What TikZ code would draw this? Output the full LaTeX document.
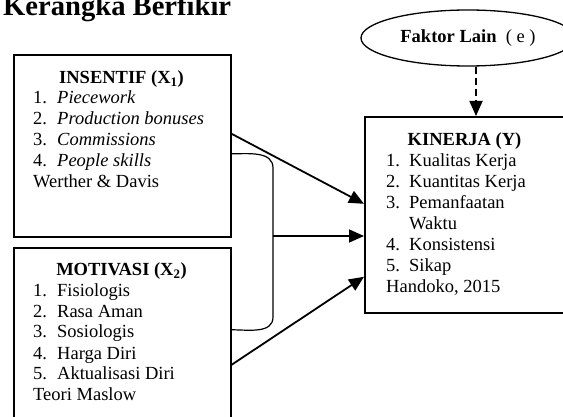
\documentclass[tikz,border=0pt]{standalone}
\usepackage{fontspec}
\setmainfont{Liberation Serif}
\usetikzlibrary{arrows.meta,shapes.geometric}
\tikzset{
  box/.style={draw, line width=1.6pt, inner sep=0pt, anchor=north west},
  arr/.style={line width=1.8pt, -{Triangle[length=15pt,width=13pt]}},
  txt/.style={inner sep=0pt, anchor=base west, font=\fontsize{18.5}{21}\selectfont},
  head/.style={inner sep=0pt, anchor=base, font=\fontsize{18.5}{21}\selectfont\bfseries}
}
\begin{document}
\begin{tikzpicture}[x=1pt,y=-1pt]
\useasboundingbox (0,0) rectangle (563,417);
\node[inner sep=0pt, anchor=base west, font=\fontsize{28.6}{30}\selectfont\bfseries] (title) at (3,16) {Kerangka Berfikir};

\node[box, minimum width=217pt, minimum height=182pt] (ins) at (13,54) {};
\node[box, minimum width=217pt, minimum height=183pt] (mot) at (13,247) {};
\node[box, minimum width=201pt, minimum height=196pt] (kin) at (364,116) {};
\node[draw, ellipse, line width=1.3pt, minimum width=214pt, minimum height=56pt, inner sep=0pt,
      font=\fontsize{18.5}{21}\selectfont] (fak) at (468,38) {\textbf{Faktor Lain}\ \ ( e )};

% isi kotak
\node[head] (insh) at (121.5,84) {INSENTIF (X\textsubscript{1})};
\node[txt] (insl) at (33,104) {\begin{tabular}[t]{@{}p{24pt}@{}l@{}}
  1. & \textit{Piecework}\\ 2. & \textit{Production bonuses}\\
  3. & \textit{Commissions}\\ 4. & \textit{People skills}\\
  \multicolumn{2}{@{}l@{}}{Werther \& Davis}\end{tabular}};
\node[head] (moth) at (121.5,276) {MOTIVASI (X\textsubscript{2})};
\node[txt] (motl) at (33,296) {\begin{tabular}[t]{@{}p{24pt}@{}l@{}}
  1. & Fisiologis\\ 2. & Rasa Aman\\ 3. & Sosiologis\\
  4. & Harga Diri\\ 5. & Aktualisasi Diri\\
  \multicolumn{2}{@{}l@{}}{Teori Maslow}\end{tabular}};
\node[head] (kinh) at (464.5,146) {KINERJA (Y)};
\node[txt] (kinl) at (386,167) {\begin{tabular}[t]{@{}p{23pt}@{}l@{}}
  1. & Kualitas Kerja\\ 2. & Kuantitas Kerja\\ 3. & Pemanfaatan\\
     & Waktu\\ 4. & Konsistensi\\ 5. & Sikap\\
  \multicolumn{2}{@{}l@{}}{Handoko, 2015}\end{tabular}};

% panah
\draw[arr] ([yshift=12pt]ins.east) -- ([yshift=11pt]kin.west);
\draw[line width=1.2pt] ([yshift=-8pt]ins.east) to[out=0,in=90] (273,168) -- (273,317)
  to[out=-90,in=0] ([yshift=9.5pt]mot.east);
\coordinate (join) at (273,236);
\draw[arr] (join) -- (kin.west |- join);
\draw[arr] ([yshift=-25.5pt]mot.east) -- ([yshift=-62pt]kin.west);
\draw[arr, dash pattern=on 7pt off 4pt] ([xshift=8pt]fak.south) -- ([xshift=8pt]fak.south |- kin.north);
\end{tikzpicture}
\end{document}
